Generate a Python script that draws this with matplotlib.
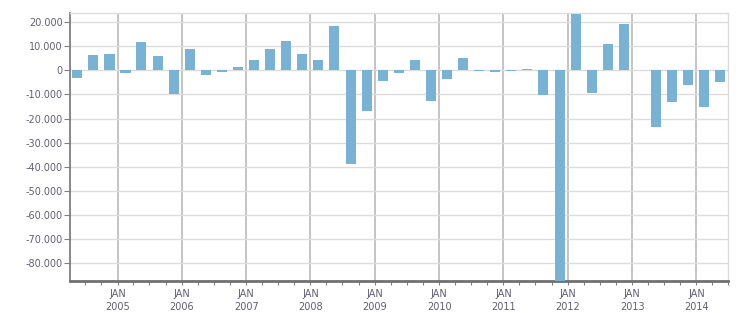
import numpy as np
import pandas as pd
import matplotlib
matplotlib.use("Agg")
import matplotlib.pyplot as plt
import matplotlib.dates as mdates
from matplotlib.ticker import FuncFormatter

# quarterly values, Q2 2004 .. Q2 2014 (Q1 2013 has no value)
quarters = pd.period_range("2004Q2", "2014Q2", freq="Q")
values = [
    -3200, 6500, 6900,
    -1100, 11900, 6100, -9800,
    9000, -1900, -700, 1400,
    4300, 8900, 12200, 6800,
    4300, 18400, -38900, -16900,
    -4400, -1100, 4300, -12700,
    -3600, 5100, -300, -700,
    -300, 550, -10200, -95000,
    23300, -9400, 10900, 19200,
    np.nan, -23500, -13100, -6100,
    -15200, -4800,
]
y_ticks = list(range(-80000, 20001, 10000))

bar_color = "#7ab2d4"
text_color = "#5f5f70"

# bars sit in the middle of each quarter
starts = quarters.start_time
ends = quarters.end_time
mids = starts + (ends - starts) / 2

fig = plt.figure(figsize=(7.51, 3.13), dpi=100)
ax = fig.add_axes([0.0928, 0.1032, 0.8770, 0.8553])

ax.bar(mids, values, width=57, color=bar_color, zorder=3)

ax.set_ylim(-87200, 23730)
ax.set_xlim(pd.Timestamp("2004-04-04"), pd.Timestamp("2014-07-01"))

ax.set_yticks(y_ticks)
ax.yaxis.set_major_formatter(FuncFormatter(lambda v, p: f"{int(v):,}".replace(",", ".")))

ax.xaxis.set_major_locator(mdates.YearLocator())
ax.xaxis.set_minor_locator(mdates.MonthLocator(bymonth=[4, 7, 10]))
ax.xaxis.set_major_formatter(mdates.DateFormatter("JAN\n%Y"))

ax.grid(axis="y", color="#dcdcdc", linewidth=1.0, zorder=0)
ax.grid(axis="x", which="major", color="#b4b4b4", linewidth=1.1, zorder=0)
ax.set_axisbelow(True)

for s in ("top", "right"):
    ax.spines[s].set_color("#dcdcdc")
    ax.spines[s].set_linewidth(1.0)
ax.spines["left"].set_color("#808080")
ax.spines["left"].set_linewidth(1.3)
ax.spines["bottom"].set_color("#707070")
ax.spines["bottom"].set_linewidth(2.0)

ax.tick_params(axis="y", length=4, width=0.8, color="#808080", pad=1,
               labelsize=7, labelcolor=text_color)
ax.tick_params(axis="x", which="both", length=3, width=0.8, color="#808080",
               pad=3, labelsize=7, labelcolor=text_color)
for lbl in ax.get_xticklabels():
    lbl.set_linespacing(1.35)

fig.savefig("out.png", dpi=100)
